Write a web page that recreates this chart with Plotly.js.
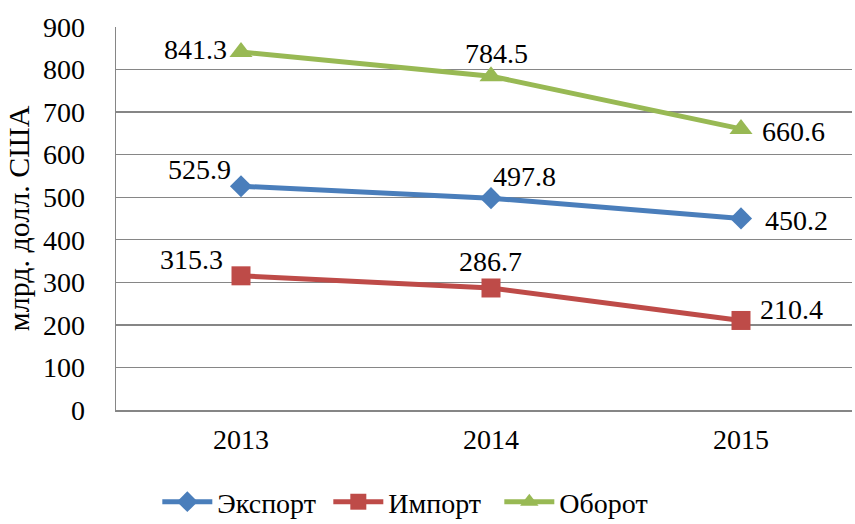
<!DOCTYPE html>
<html>
<head>
<meta charset="utf-8">
<script src="https://cdn.plot.ly/plotly-3.0.1.min.js"></script>
<style>
  body { margin: 0; background: #fff; }
  #plot { width: 855px; height: 524px; }
</style>
</head>
<body>
<div id="plot"></div>
<script>
// years on the category axis
var years = ["2013", "2014", "2015"];

// values, bn USD
var exportVals = [525.9, 497.8, 450.2];
var importVals = [315.3, 286.7, 210.4];
var turnoverVals = [841.3, 784.5, 660.6];

var yTicks = [0, 100, 200, 300, 400, 500, 600, 700, 800, 900];

// where each data label sits relative to its marker (px)
var exportDx = [-42, 33, 55], exportDy = [17, 22, -2];
var importDx = [-50, -1, 50], importDy = [16, 26, 11];
var turnoverDx = [-46, 5, 52], turnoverDy = [2, 23, -3];

var font = "Liberation Serif";
var blue = "#4A7EBB", red = "#BE4B48", green = "#98B954";

function series(name, vals, color, symbol, size) {
  return {
    x: years,
    y: vals,
    name: name,
    type: "scatter",
    mode: "lines+markers",
    line: { color: color, width: 5 },
    marker: { symbol: symbol, size: size, color: color }
  };
}

var data = [
  series("Экспорт", exportVals, blue, "diamond", 17),
  series("Импорт", importVals, red, "square", 19),
  series("Оборот", turnoverVals, green, "triangle-up", 20)
];

var annotations = [];
function addLabels(vals, dx, dy) {
  vals.forEach(function (v, i) {
    annotations.push({
      x: i, y: v, xref: "x", yref: "y",
      text: v.toFixed(1), showarrow: false,
      xshift: dx[i], yshift: dy[i],
      font: { family: font, size: 28, color: "#000" }
    });
  });
}
addLabels(exportVals, exportDx, exportDy);
addLabels(importVals, importDx, importDy);
addLabels(turnoverVals, turnoverDx, turnoverDy);

var layout = {
  width: 855,
  height: 524,
  margin: { l: 116, r: 3, t: 27, b: 114 },
  paper_bgcolor: "#fff",
  plot_bgcolor: "#fff",
  font: { family: font, size: 28, color: "#000" },
  showlegend: true,
  legend: {
    orientation: "h",
    xref: "container", yref: "container",
    x: 0.484, xanchor: "center",
    y: 0.042, yanchor: "middle",
    itemwidth: 50,
    entrywidth: 106,
    font: { family: font, size: 28 }
  },
  annotations: annotations,
  xaxis: {
    type: "category",
    range: [-0.5, 2.444],
    showgrid: false,
    showline: true,
    linecolor: "#868686",
    linewidth: 1.5,
    ticks: "",
    ticklabelstandoff: 4,
    tickfont: { family: font, size: 28 },
    fixedrange: true
  },
  yaxis: {
    range: [0, 900],
    tickvals: yTicks,
    showgrid: true,
    gridcolor: "#868686",
    gridwidth: 1.3,
    showline: true,
    linecolor: "#868686",
    linewidth: 1.5,
    zeroline: false,
    ticks: "",
    ticklabelstandoff: 24,
    tickfont: { family: font, size: 28 },
    title: { text: "млрд. долл. США", font: { family: font, size: 30 }, standoff: 4 }
  }
};

Plotly.newPlot("plot", data, layout, { displayModeBar: false, staticPlot: true });
</script>
</body>
</html>
